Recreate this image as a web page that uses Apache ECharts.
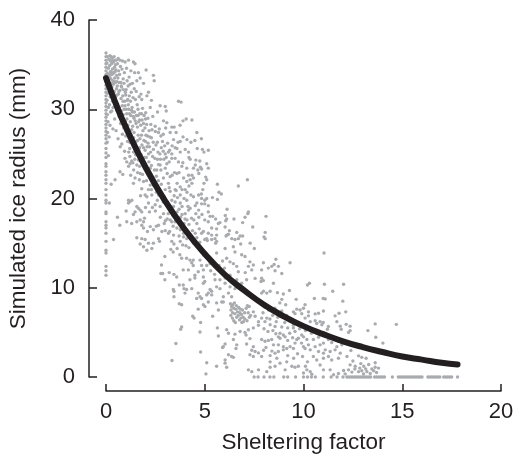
<!DOCTYPE html>
<html><head><meta charset="utf-8">
<style>html,body{margin:0;padding:0;background:#fff}#c{width:516px;height:455px}</style>
<script src="https://cdn.jsdelivr.net/npm/echarts@6/dist/echarts.min.js"></script>
</head><body><div id="c"></div>
<script>
const xTitle = "Sheltering factor";
const yTitle = "Simulated ice radius (mm)";
const curveX = [0,0.5,1,2,3,4,5,6,7,8,9,10,11,12,13,14,15,16,17,17.8];
const curveY = [33.5,30.6,28,23.5,19.7,16.5,13.8,11.5,9.7,8.1,6.8,5.7,4.8,4,3.35,2.8,2.3,1.95,1.6,1.4];
const col0 = [36.3,35.9,35.5,35.1,34.7,34.3,33.9,33.5,33.1,32.7,32.3,31.9,31.5,31.1,30.7,30.3,29.9,29.5,29.1,28.7,28.3,27.9,27.5,27.1,26.7,26.2,25.6,25.1,24.6,23.9,23.6,23,22.6,22.1,21.7,21,20.4,19.8,19.5,18.5,18.3,17.4,17,16.7,16.1,15.2,14.2,13.9,12.4,11.9,11.4];
// dense top-left block
const ptsA = [.08,35.9,.05,35.2,.12,34.6,.07,34,.11,33.3,.06,32.6,.09,31.8,.05,31,.12,30.2,.07,29.4,.1,28.6,.08,27.4,.06,26.3,.12,24.8,.17,19.5,.26,21.6,.46,22.1,.58,17.9,.38,15.4,
.2,36,.23,35.4,.18,34.9,.22,34.2,.19,33.6,.24,32.9,.17,32.2,.21,31.4,.18,30.5,.23,29.7,.2,28.2,.16,26.9,
.31,35.7,.28,35.1,.33,34.5,.29,33.9,.34,33.2,.3,32.5,.27,31.7,.33,30.9,.29,29.8,.35,27.8,
.41,35.9,.38,35.3,.43,34.7,.39,34.1,.44,33.5,.37,32.8,.42,32,.4,31.1,.36,30.2,.44,28.9,
.52,35.5,.48,35,.5,34.4,.54,33.8,.47,33,.53,32.3,.49,31.4,.55,29.9,.51,27.6,
.62,35.7,.58,35.1,.64,34.3,.6,33.5,.57,32.6,.63,31.7,.59,30.6,.66,29.2,.61,26.7,.71,23,.85,22.7,
.71,35.5,.73,34.8,.69,33.9,.75,33,.7,32.1,.76,31.2,.68,30.2,.74,28.4,.72,25.8,
.84,35.4,.81,34.5,.87,33.4,.79,32.5,.85,31.5,.82,30.4,.88,29.4,.83,27.2,.8,26.1,
.97,35.3,.93,34.1,.91,32.9,.98,31.9,.95,30.9,.92,30,.99,28.6,.94,25.3,.96,24.5,
1.04,34.6,1.07,33.2,1.02,32.2,1.08,31,1.03,30,1.06,28.9,1.01,27.5,1.09,26.4,1.05,24.1,1.02,18.6,
1.14,35.5,1.17,33.6,1.12,32.6,1.18,31.5,1.13,30.5,1.19,29.5,1.11,28.2,1.16,26.8,1.15,25.2,1.14,23.6,1.14,19.8,1.22,19.65,1.31,19.8,1.14,19.5,
1.26,34.3,1.22,32.8,1.28,31.9,1.24,30.9,1.29,29.9,1.23,28.6,1.27,27.1,1.21,24.7,1.22,23.9,1.25,22.6,
1.39,35.3,1.34,32.9,1.37,31.3,1.32,30.2,1.38,29.2,1.35,28.1,1.33,26.5,1.39,25.2,1.36,24,1.39,21.7,1.39,18.2,
1.47,35.1,1.45,34.1,1.43,32.3,1.49,31.1,1.44,29.7,1.48,28.7,1.42,27.4,1.46,24.4,1.47,22.3,1.47,18.5,
1.56,33.2,1.53,32,1.58,30.5,1.54,29.3,1.59,28,1.52,26.4,1.56,23.75,1.56,19.1,1.56,17.4,1.56,15.6,
1.64,34.1,1.68,31.4,1.62,30,1.66,28.6,1.63,27.1,1.67,25.4,1.64,24.3,1.69,22.1,1.64,18.9,
1.73,33.5,1.77,31.7,1.71,29.5,1.76,28.2,1.72,26.7,1.78,24.9,1.73,22.8,1.73,18.7,1.73,17.6,1.73,14.9,
1.81,31.1,1.85,30.1,1.83,28.8,1.87,27.6,1.82,26,1.86,24.3,1.81,21.1,1.81,18.5,1.81,17,1.81,15.5,
1.9,32.9,1.93,29.3,1.97,27.9,1.92,26.5,1.98,25.4,1.95,23.6,1.98,20.4,1.9,17.4,1.9,16.7,1.9,14.6,
2.03,34.4,2.07,31.5,2.01,29.6,2.06,28.3,2.02,27.1,2.08,25.8,2.04,24.6,2.07,20.2,1.98,15.4,2.07,14.2,
2.15,31.9,2.12,29,2.18,27.6,2.13,26.2,2.17,24.1,2.15,19.5,2.15,15,
2.3,31,2.24,30.2,2.27,28.3,2.22,26.9,2.26,25.2,2.24,23.4,2.24,21.5,2.24,16.85,
2.4,33.8,2.44,33.2,2.37,29.2,2.33,27.7,2.39,26.3,2.36,24.7,2.32,22.2,2.32,20.4,2.32,14.4,2.4,15,2.4,16.5,
2.49,28.1,2.53,26,2.47,24.5,2.55,22.5,2.49,21.7,2.49,19.3,
2.61,29.7,2.66,27.4,2.63,25.2,2.66,23.8,2.57,23.2,2.66,20.4,2.66,17,2.66,15.5,2.71,15.2,
2.74,30.4,2.78,27,2.73,25,2.74,23.75,2.78,23.2,2.74,19.1,2.83,16.3,
2.91,28.7,2.86,26.4,2.93,24.4,2.91,22.3,2.91,18.3,
3,30.3,3.05,29.8,3.02,27.9,2.97,25.9,3,25,3,21,3,23.4,
3.08,28.5,3.12,26.2,3.08,23.9,3.16,25.2,3.08,19.3,3.16,21.7,3.16,16.1];
const ptsB = [3.25,27.4,3.22,25.4,3.25,22.45,3.25,20.8,3.25,17.6,3.33,28,3.45,28,3.33,25,3.33,24.5,3.33,19.8,3.33,17.4,3.33,15.2,
3.42,26.6,3.5,24.5,3.47,22.9,3.5,21,3.42,19.1,3.42,15.9,3.5,17.4,3.5,19.6,3.59,25.6,3.59,22.8,3.59,16.7,
3.67,30.9,3.8,30.8,3.76,26.4,3.67,24.1,3.76,25.2,3.76,21.3,3.76,20.4,3.76,19.5,3.76,15.2,3.76,16.5,
3.84,23.6,3.89,24,3.93,22.3,3.93,16.1,3.93,15.7,3.9,28.7,4.06,28.9,4.35,28.8,4.01,25.5,4.01,21,4.01,18.3,
4.09,23.4,4.09,21.9,4.09,19.8,4.09,15.5,4.18,25.2,4.18,22.6,4.18,18.7,4.26,24.4,4.26,18.9,4.26,22.1,
4.35,21.7,4.35,22.6,4.43,22.3,4.43,20.2,4.52,23.75,4.43,23.4,4.52,19.2,4.6,19.5,4.69,20.4,4.69,18.7,
4.55,24.3,4.62,25.6,4.75,24.2,4.83,26.7,4.88,25.5,4.7,22.8,4.78,23.5,
4.96,25.2,5.18,25.4,5.1,23.9,5.18,23.4,4.84,23.3,5.05,22.4,5.1,22.1,4.96,21.7,5.64,21.6,6.7,21.4,7.16,22.1,4.9,21,4.83,20.5,5.72,20.7,5.84,20.5,5.39,20.1,5.64,19.9,5.1,20,5,19.8,4.84,20,5,19.4,4.84,19.4,5.18,19.2,6.13,18.8,5.18,18.5,7.21,18.5,7.18,18.3,6.04,18.1,8.1,18,7.04,17.9,6.11,17.7,5.27,18,5.4,18,5.55,17.7,6.48,17.7,6.92,17.3,6.06,17.5,5.77,17.3,5.69,17.2,5,17.6,5.18,17.4,7.43,16.8,6.03,16.8,6.25,16.4,6.2,16,6.62,16.2,8.06,16.2,8,15.7,8.06,15.5,6.79,15.8,6.92,15.8,6.7,15.5,6.37,15.5,6.53,15.4,7.3,15,6.82,14.9,6.45,14.6,6.03,14.4,7.51,14.4,5.6,15.9,5.35,15.9,5.18,16.1,5.52,15.5,5.35,15.4,5.6,15.2,5.55,15,5.1,15.5,5,15.4,5.13,15.3,4.93,16.3,4.84,16.1,5.35,16.7,5.6,16.6,6.11,15.9,6.08,15.8,
4.33,17.8,4.2,17.1,4.45,17.6,4.6,17.2,4.72,16.6,4.52,16.1,4.38,16.4,4.12,16.3,4.3,15.7,4.6,15.6,4.75,15.1,4.44,15,4.2,14.5,4.05,14.7,4.7,17.9,4.86,18.2,4.55,18.3,4.1,17.6,3.95,17.2,3.78,17.9,3.6,18.5,3.85,19.1,3.62,20.1,3.55,20.9,3.2,18.9,3.1,17.7,3.22,16.3,3,16.4,3.28,14.3,3.44,14.9,3.6,14.4];
// extra points filling the dense band beside the curve
const ptsE = [.15,35.6,.26,35.9,.35,35.4,.45,35.5,.16,33.9,.26,34.2,.36,34,.46,34.2,.14,33,.25,33.4,.35,32.9,.45,33.1,.55,33.1,.66,33,.77,32.6,.88,32.2,1,31.6,1.1,31.1,
.65,32,.55,31.6,.44,30.6,.62,29.9,.7,29.4,.78,29.8,.86,30.9,.96,30.4,1.05,29.5,1.15,30,1.25,29.3,1.34,29.7,1.42,29,1.52,28.4,1.62,29.3,1.7,28.8,1.8,29.5,1.9,28.4,2,28.9,
.9,27.9,1,27,1.1,27.4,1.2,26.3,1.3,27.7,1.4,26.8,1.5,25.6,1.6,26.5,1.7,25.7,1.8,27.1,1.9,25.7,2,26.4,2.1,27,2.2,25.8,2.3,26.8,2.4,25.5,2.5,27.5,2.6,26.3,2.7,27.8,2.8,25.7,2.9,27.2,
1.2,25.6,1.3,24.2,1.4,23.2,1.5,24.9,1.6,22.9,1.7,23.6,1.85,22.7,1.95,24.6,2.05,23.2,2.15,25,2.3,23.7,2.45,23.2,2.6,24.4,2.75,24.4,2.9,25.3,3.05,24.6,3.2,24.1,3.35,25.9,3.5,25.7,3.65,26.3,
1.75,20.3,1.9,21.9,2.05,22,2.15,21,2.3,21,2.4,21.5,2.55,20.7,2.65,22,2.8,21.6,2.95,20.2,3.1,22.8,3.2,21.2,3.35,22.6,3.45,20.3,3.6,21.7,3.7,22.9,3.85,21,3.95,20,4.1,20.7,4.2,21.4,4.3,20.4,
2,19,2.2,18.5,2.35,19,2.5,18.6,2.6,19.8,2.75,17.9,2.9,19.6,3,17.5,3.15,18.3,3.3,18.7,3.4,18.1,3.55,17.6,3.7,18.8,3.85,18.2,4,17.7,4.15,19.1,
1.95,17.8,2.1,16.3,2.55,16.9,2.95,17.2,3.4,16.9,3.7,15.8,3.88,14.8,.7,17,1.05,17.4,1.3,17.2,
3.75,28.2,3.55,27.4,4.1,26.6,3.9,26.9,4.3,26.3,4.5,26.5,4.6,27.4,4.2,24.6,4.65,23.2];
// middle
const ptsC = [2.98,13.5,2.81,12.55,2.78,11.6,2.87,11.6,3.2,11.7,3.44,11.5,3.58,11.2,2.98,10.9,3.4,14,3.74,13.7,3.83,13.3,4.08,13.3,4.25,13.1,4.42,13.1,4.34,12.8,4.42,12.5,4.17,12,3.91,12,4.76,13.1,4.84,12.5,5.1,12.5,4.93,12,4.67,11.8,5.27,12.7,4.5,11.4,4.5,11.1,4.25,10.9,4.93,11.2,5,10.7,4.93,10.5,3.71,10.3,3.91,10.3,3.95,9.9,4.08,9.8,4.34,9.9,3.41,9.8,3.44,9.6,3.44,9,4,9.4,3.71,8.2,3.83,8.1,4.67,9.4,4.76,9,4.84,8.8,4.59,8.8,5.27,9.8,5.35,9.6,5.18,9.4,5.35,9.2,5.1,9.2,5.6,10.1,5.77,9.9,5.52,10.9,5.77,10.9,6.03,11.1,6.03,10.5,6.28,10.1,6.53,9.9,6.2,9.4,5.94,9,6.36,9,5.6,8.3,5.86,8.4,5.94,8.4,5.18,8.4,4.93,8.1,4.67,7.6,5.01,7.9,5.4,6.8,5.69,7.5,
4.39,6.8,4.46,6.6,4.79,6.1,3.83,5.6,3.78,5.35,4.76,5.05,5.64,5.5,5.69,4.6,3.54,3.75,4.79,2.8,3.34,1.85,5.1,1.6,5.06,.35,5.6,1.2,6.03,1.55,6.11,1.1,6.2,2.5,6.36,2.3,6.45,2.2,6.03,1.9,5.94,3.4,6.03,3.7,5.9,3.3,6.62,3.6,6.58,3.2,6.45,4.2,6.11,5.3,6.2,4.9,6.53,4.8,6.79,5.1,7.04,5,7.21,5.3,7.09,4.7,7.29,4.3,7.12,3.7,7.46,3.4,7.38,3,7.29,2.5,7.46,2.3,7.72,2.7,7.55,2.85,7.21,.8,7.38,.6,7.72,.8,7.46,7.3,7.55,6.8,7.72,6.2,7.72,5.8,7.46,5.5,
6.3,8.2,6.36,7.9,6.42,8.1,6.33,7.5,6.41,7.2,6.47,7.7,6.5,8.3,6.53,7.1,6.58,7.6,6.62,6.7,6.6,8,6.66,7.3,6.7,6.9,6.72,7.8,6.76,6.4,6.78,7.2,6.8,7.6,6.83,6.6,6.86,7,6.88,6.1,6.91,7.5,6.94,6.7,6.96,6.2,6.4,6.6,6.47,6.3,6.55,6.1,6.32,6.9,7.02,7.2,7.1,7.7,7.16,8,7.2,7.2,7.03,6.5,7.14,6.3,7.26,6.7,7.32,6.9,7.25,7.9,
4.93,13.67,5.27,12.9,5.6,13.9,6.11,13.3,6.28,12.9,6.45,12.7,6.62,12.4,6.53,14,6.87,13.7,7.04,13.5,7.29,12.9,7.21,12.4,7.46,12.55,7.38,12,7.55,11.05,7.12,10.9,6.87,10.5,6.62,10.9,6.28,11.4,5.94,11.8,5.5,11.5,5.3,11.9,5.72,12.5,5.9,13,6,12.2,6.7,11.8,7.05,11.7];
// lower right
const ptsD = [11.04,13.9,8.6,13.2,9.32,12.8,7.97,12.8,8.51,12.6,8.39,12.4,8.22,12.2,8.56,11.9,8.9,11.6,7.88,12,8.73,12.4,7.88,11.06,7.97,10.8,7.85,10.7,8.48,10.5,10.2,10.3,10.3,10.5,11.06,10.4,12.03,10.4,11.48,9.6,9.29,9.7,8.68,9.45,8.31,9.6,7.97,9.6,7.88,9.4,8.98,9.3,8.14,9.4,10.55,8.8,11,8.8,11.1,8.75,9.63,8.7,8.9,8.7,11.99,8.5,10.08,8.1,10,7.7,9.83,7.5,9.66,7.6,9.49,7.3,9.91,7.1,9.57,7.1,10.25,7.3,11.01,7.4,12.14,7.3,10.59,7.07,10.76,7.14,11.8,7.15,11.6,6.85,10.25,6.85,10.08,6.6,10.34,6.2,10.59,6.3,10.84,6.2,11,6.1,10.67,6,10.93,5.85,11.69,6.2,12.16,5.9,12.36,5.7,13.63,5.95,14.7,5.9,11.26,5.65,11.21,5.35,11.86,5.7,11.91,5.35,13.26,5.2,12.36,5.2,12.28,5,13.66,4.45,14.02,3.8,9.49,5.8,9.49,5.5,9.57,5.1,8.9,5.6,8.56,5.65,8.31,5.85,8.05,6.2,7.88,6.6,8.14,6.6,8.81,4.9,8.98,4.7,9.07,4.5,8.73,4.5,8.81,4.35,9.91,4.7,10,4.5,9.74,4.35,9.66,4.2,9.57,3.8,10.17,4.2,10.5,4.2,10.76,4.46,10.59,3.4,10.84,3.6,11.01,3.8,11.26,4.2,11.43,3.86,11.77,4,11.69,3.4,11.94,3.6,11.1,3.04,10.76,2.85,11.01,2.67,11.35,2.85,11.6,3.04,11.86,2.67,11.26,2.3,11.43,1.9,11.77,2.1,11.01,2.1,10.5,2.3,10.67,1.9,10.34,3.04,10.08,3.2,10,3.4,12.4,2.97,12.79,2.37,12.95,2.2,13.17,2.1,13.63,1.6,13.63,1.1,13.46,.9,13.21,.6,13.04,.35,13.38,.4,12.79,.6,12.62,1.2,12.36,1.36,12.28,.8,12.03,.73,12.11,.35,11.77,.4,11.52,.25,
7.88,4.2,8.05,4,8.22,4.1,8.39,4.2,8.48,3.6,8.73,3.6,8.98,3.4,9.15,3.2,9.32,3.4,9.49,3.2,7.88,2.3,8.31,2.4,8.56,2.67,8.73,2.85,8.98,3.04,8.31,1.7,8.65,2.1,9.15,1.7,9.41,1.2,9.57,1.1,9.74,1.2,8.81,1.55,8.56,1.2,8.31,1.1,8.14,.6,9.07,.8,10.1,1.2,10.17,.8,10.34,.6,10.42,.3,10,.45,11.01,.8,10.84,1.35,11.35,.8,
8.8,8.3,9.1,8.1,8.55,7.7,8.9,7.4,8.23,7.5,8.05,7.8,7.95,7.2,8.44,6.9,8.7,6.7,9.15,6.9,9.3,6.3,9.05,6.1,8.62,6.2,8.3,6.5,8,5.4,8.2,5.1,8.45,5.2,8.6,4.85,9.3,4.9,9.2,5.5,9.8,5.4,10.1,5.2,10.4,4.9,10.65,5.2,10.95,4.9,11.15,4.6,9.45,4.4,9.2,4.1,9.9,3.8,10.25,3.6,8.1,3.3,7.98,3,8.4,2.9,9.7,2.6,9.95,2.3,9.2,2.4,9.5,2.1,10.2,1.7,12.2,2.3,12.5,1.8,12.9,1.5,12.6,.9,12.85,1,13.05,1.2,13.3,1.4,13.55,.7,13.8,1,13.7,.5,13.15,.9,12.95,.7,12.45,.55];
const zeroRow = [7.5,7.7,8,8.3,8.5,9,9.2,9.6,10,10.2,10.4,10.6,11,11.4,11.7,12,12.2,12.3,12.4,12.5,12.6,12.7,12.8,12.9,13,13.1,13.2,13.3,13.4,13.6,13.7,13.8,13.9,14,14.1,14.5,14.8,14.9,15,15.1,15.2,15.3,15.4,15.5,15.6,15.7,15.8,15.9,16,16.3,16.4,16.5,16.6,16.7,16.8,16.9,17.1,17.2,17.3,17.4,17.5,17.8];

const scatter = [];
col0.forEach(y => scatter.push([0, y]));
[ptsA, ptsB, ptsE, ptsC, ptsD].forEach(a => { for (let i = 0; i < a.length; i += 2) scatter.push([a[i], a[i + 1]]); });
zeroRow.forEach(x => scatter.push([x, 0]));
const curve = curveX.map((x, i) => [x, curveY[i]]);

const ink = '#231f20', font = 'Liberation Sans';
const chart = echarts.init(document.getElementById('c'), null, {renderer: 'canvas'});
chart.setOption({
  animation: false,
  backgroundColor: '#fff',
  grid: {left: 106, right: 15, top: 20, bottom: 78, outerBoundsMode: 'none'},
  xAxis: {type: 'value', min: 0, max: 20, interval: 5, offset: 14,
    name: xTitle, nameLocation: 'middle', nameGap: 40,
    nameTextStyle: {color: ink, fontFamily: font, fontSize: 22.5},
    axisLine: {show: true, onZero: false, lineStyle: {color: ink, width: 1.5}},
    axisTick: {show: true, inside: true, length: 7, lineStyle: {color: ink, width: 1.5}},
    axisLabel: {color: ink, fontFamily: font, fontSize: 22, margin: 10},
    splitLine: {show: false}},
  yAxis: {type: 'value', min: 0, max: 40, interval: 10, offset: 17,
    name: yTitle, nameLocation: 'middle', nameGap: 59,
    nameTextStyle: {color: ink, fontFamily: font, fontSize: 22.5},
    axisLine: {show: true, onZero: false, lineStyle: {color: ink, width: 1.5}},
    axisTick: {show: true, inside: true, length: 8, lineStyle: {color: ink, width: 1.5}},
    axisLabel: {color: ink, fontFamily: font, fontSize: 22, margin: 14},
    splitLine: {show: false}},
  series: [
    {type: 'scatter', data: scatter, symbol: 'circle', symbolSize: 3.4, clip: false,
     itemStyle: {color: '#a9abae', opacity: 1}, z: 2},
    {type: 'line', data: curve, smooth: true, showSymbol: false, clip: false,
     lineStyle: {color: ink, width: 6, cap: 'round', join: 'round'}, z: 3}
  ]
});
</script></body></html>
